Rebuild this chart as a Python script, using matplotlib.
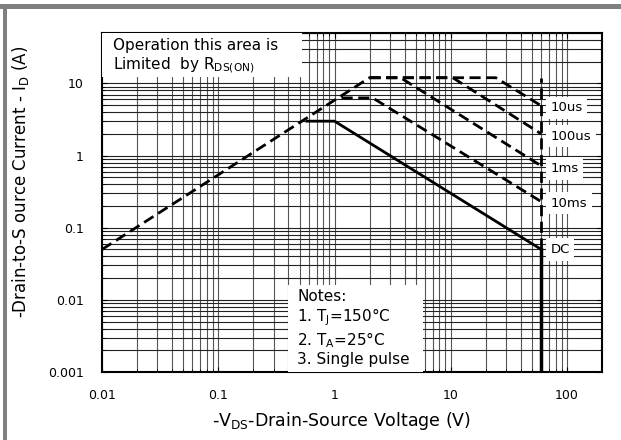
import matplotlib
matplotlib.use('Agg')
import matplotlib.pyplot as plt
from matplotlib.patches import Rectangle

plt.rcParams['font.family'] = ['DejaVu Sans']

# R_DS(on) limit line
rds_v = [0.01, 2.0]
rds_i = [0.05, 12.0]

# single pulse curves (V, I)
us10_v = [2.0, 24.4, 60]
us10_i = [12.0, 12.0, 4.9]
us100_v = [2.0, 10.4, 60]
us100_i = [12.0, 12.0, 2.0]
ms1_v = [2.0, 3.7, 60]
ms1_i = [12.0, 12.0, 0.72]
ms10_v = [1.15, 2.13, 60]
ms10_i = [6.3, 6.3, 0.23]
dc_v = [0.58, 1.0, 60]
dc_i = [3.0, 3.0, 0.05]

# BV_DSS limit
vmax = 60
vmax_i = [0.001, 12.0]

curve_labels = ['10us', '100us', '1ms', '10ms', 'DC']
label_i = [4.6, 1.85, 0.66, 0.22, 0.05]

fig = plt.figure(figsize=(6.21, 4.40), dpi=100)
ax = fig.add_axes([0.1643, 0.1545, 0.8051, 0.7705])

ax.set_xscale('log')
ax.set_yscale('log')
ax.set_xlim(0.01, 200)
ax.set_ylim(0.001, 50)

# horizontal grid darker than vertical, as in the datasheet scan
ax.grid(True, axis='y', which='both', color='#222222', lw=0.8)
ax.grid(True, axis='x', which='both', color='#555555', lw=0.8)
ax.set_axisbelow(True)

dash = dict(color='black', lw=2.0, ls=(0, (4, 2)))
ax.plot(rds_v, rds_i, **dash)
ax.plot(us10_v, us10_i, **dash)
ax.plot(us100_v, us100_i, **dash)
ax.plot(ms1_v, ms1_i, **dash)
ax.plot(ms10_v, ms10_i, **dash)
ax.plot([vmax, vmax], [dc_i[-1], vmax_i[1]], **dash)
ax.plot(dc_v, dc_i, color='black', lw=2.0)
ax.plot([vmax, vmax], [vmax_i[0], dc_i[-1]], color='black', lw=2.5)

for lab, yi in zip(curve_labels, label_i):
    ax.text(72, yi, lab, fontsize=9.5, va='center', ha='left',
            bbox=dict(boxstyle='square,pad=0.35', fc='white', ec='none'))

# note boxes
ax.add_patch(Rectangle((0, 0.87), 0.4, 0.13, transform=ax.transAxes,
                       fc='white', ec='none', zorder=3))
ax.text(0.021, 0.985, 'Operation this area is\nLimited  by R$_\\mathrm{DS(ON)}$',
        transform=ax.transAxes, fontsize=11, va='top', ha='left',
        linespacing=1.2, zorder=4)

ax.add_patch(Rectangle((0.372, 0.0), 0.27, 0.257, transform=ax.transAxes,
                       fc='white', ec='none', zorder=3))
ax.text(0.39, 0.245,
        'Notes:\n1. T$_\\mathrm{J}$=150°C\n2. T$_\\mathrm{A}$=25°C\n3. Single pulse',
        transform=ax.transAxes, fontsize=11, va='top', ha='left',
        linespacing=1.15, zorder=4)

ax.set_xticks([0.01, 0.1, 1, 10, 100])
ax.set_xticklabels(['0.01', '0.1', '1', '10', '100'])
ax.set_yticks([0.001, 0.01, 0.1, 1, 10])
ax.set_yticklabels(['0.001', '0.01', '0.1', '1', '10'])
ax.tick_params(which='both', direction='in', top=True, right=True, labelsize=9)
ax.tick_params(axis='x', which='major', pad=12)
ax.tick_params(axis='y', which='major', pad=13)

for s in ax.spines.values():
    s.set_linewidth(1.5)

ax.set_xlabel('-V$_\\mathrm{DS}$-Drain-Source Voltage (V)', fontsize=12.5, labelpad=7)
ax.xaxis.set_label_coords(0.478, -0.112)
ax.set_ylabel('-Drain-to-S ource Current - I$_\\mathrm{D}$ (A)', fontsize=12)
ax.yaxis.set_label_coords(-0.142, 0.56)

# gray frame on top and left
fig.add_artist(Rectangle((0, 1 - 9/440), 1, 5/440, transform=fig.transFigure,
                         fc='#808080', ec='none'))
fig.add_artist(Rectangle((3/621, 0), 4/621, 1 - 4/440, transform=fig.transFigure,
                         fc='#808080', ec='none'))

fig.savefig('out.png', dpi=100)
